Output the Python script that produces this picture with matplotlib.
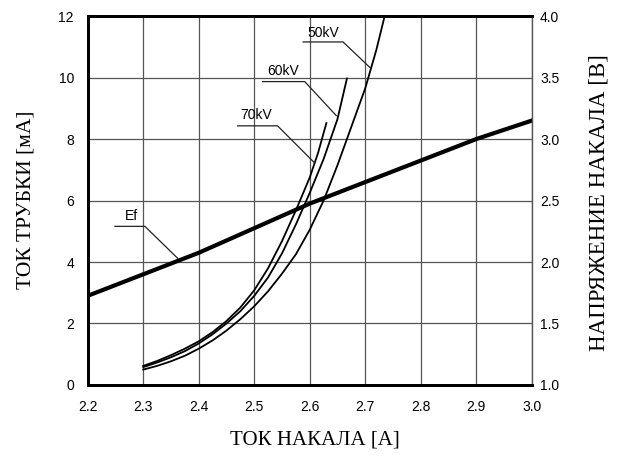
import matplotlib
matplotlib.use("Agg")
import matplotlib.pyplot as plt

# filament current [A] vs tube current [mA]
x_70kv = [2.300, 2.325, 2.350, 2.375, 2.400, 2.425, 2.450, 2.475, 2.500,
          2.525, 2.550, 2.575, 2.600, 2.615, 2.630]
y_70kv = [0.62, 0.78, 0.97, 1.18, 1.42, 1.72, 2.08, 2.52, 3.08,
          3.80, 4.68, 5.68, 6.75, 7.55, 8.52]

x_60kv = [2.300, 2.325, 2.350, 2.375, 2.400, 2.425, 2.450, 2.475, 2.500,
          2.525, 2.550, 2.575, 2.600, 2.625, 2.650, 2.667]
y_60kv = [0.58, 0.73, 0.90, 1.10, 1.35, 1.65, 2.00, 2.40, 2.90,
          3.50, 4.28, 5.22, 6.25, 7.35, 8.65, 9.97]

x_50kv = [2.300, 2.325, 2.350, 2.375, 2.400, 2.425, 2.450, 2.475, 2.500,
          2.525, 2.550, 2.575, 2.600, 2.625, 2.650, 2.675, 2.700, 2.720, 2.735]
y_50kv = [0.50, 0.62, 0.77, 0.95, 1.18, 1.45, 1.77, 2.14, 2.56,
          3.05, 3.62, 4.25, 5.05, 6.00, 7.15, 8.40, 9.65, 10.90, 12.0]

# filament voltage [V]
x_ef = [2.2, 2.3, 2.4, 2.5, 2.6, 2.7, 2.8, 2.9, 3.0]
v_ef = [1.725, 1.90, 2.075, 2.275, 2.475, 2.65, 2.825, 3.0, 3.15]

xticks = [2.2, 2.3, 2.4, 2.5, 2.6, 2.7, 2.8, 2.9, 3.0]
yticks = [0, 2, 4, 6, 8, 10, 12]
y2ticks = [1.0, 1.5, 2.0, 2.5, 3.0, 3.5, 4.0]

sans = "Liberation Sans"
serif = "Liberation Serif"

fig = plt.figure(figsize=(6.27, 4.61), dpi=100)
ax = fig.add_axes([0.140, 0.165, 0.708, 0.800])
ax2 = ax.twinx()

ax.set_xlim(2.2, 3.0)
ax.set_ylim(0, 12)
ax2.set_ylim(1.0, 4.0)
ax.set_xticks(xticks)
ax.set_yticks(yticks)
ax2.set_yticks(y2ticks)
ax.set_xticklabels([f"{t:.1f}" for t in xticks], family=sans, fontsize=10)
ax.set_yticklabels([str(t) for t in yticks], family=sans, fontsize=10)
ax2.set_yticklabels([f"{t:.1f}" for t in y2ticks], family=sans, fontsize=10)
ax.tick_params(axis="x", length=0, pad=11)
ax.tick_params(axis="y", length=0, pad=10)
ax2.tick_params(axis="y", length=0, pad=6)

ax.grid(True, color="#555555", linewidth=0.9)
ax.set_axisbelow(True)
for s in ["left", "top", "bottom"]:
    ax.spines[s].set_linewidth(2)
    ax2.spines[s].set_linewidth(2)
ax2.spines["right"].set_linewidth(1.0)
ax2.spines["right"].set_color("#555555")
ax.spines["right"].set_visible(False)

for xs, ys in [(x_70kv, y_70kv), (x_60kv, y_60kv), (x_50kv, y_50kv)]:
    ax.plot(xs, ys, color="black", linewidth=1.3, solid_joinstyle="round")
ax2.plot(x_ef, v_ef, color="black", linewidth=3)

# labels with leader lines
labels = [
    ("50kV", 2.624, 11.45, [2.588, 2.660, 2.709], [11.16, 11.16, 10.32]),
    ("60kV", 2.552, 10.2, [2.515, 2.591, 2.648], [9.87, 9.87, 8.76]),
    ("70kV", 2.504, 8.78, [2.470, 2.542, 2.609], [8.43, 8.43, 7.22]),
    ("Ef", 2.279, 5.5, [2.249, 2.303, 2.362], [5.16, 5.16, 4.12]),
]
for txt, tx, ty, lx, ly in labels:
    ax.text(tx, ty, txt, family=sans, fontsize=10, ha="center", va="center",
            zorder=5)
    ax.plot(lx, ly, color="#222222", linewidth=0.9)

fig.text(0.502, 0.045, "ТОК НАКАЛА [А]", family=serif, fontsize=15,
         ha="center", va="center")
fig.text(0.042, 0.566, "ТОК ТРУБКИ [мА]", family=serif, fontsize=15.5,
         ha="center", va="center", rotation=90)
fig.text(0.955, 0.56, "НАПРЯЖЕНИЕ НАКАЛА [В]", family=serif, fontsize=16.5,
         ha="center", va="center", rotation=90)

fig.savefig("out.png", dpi=100)
